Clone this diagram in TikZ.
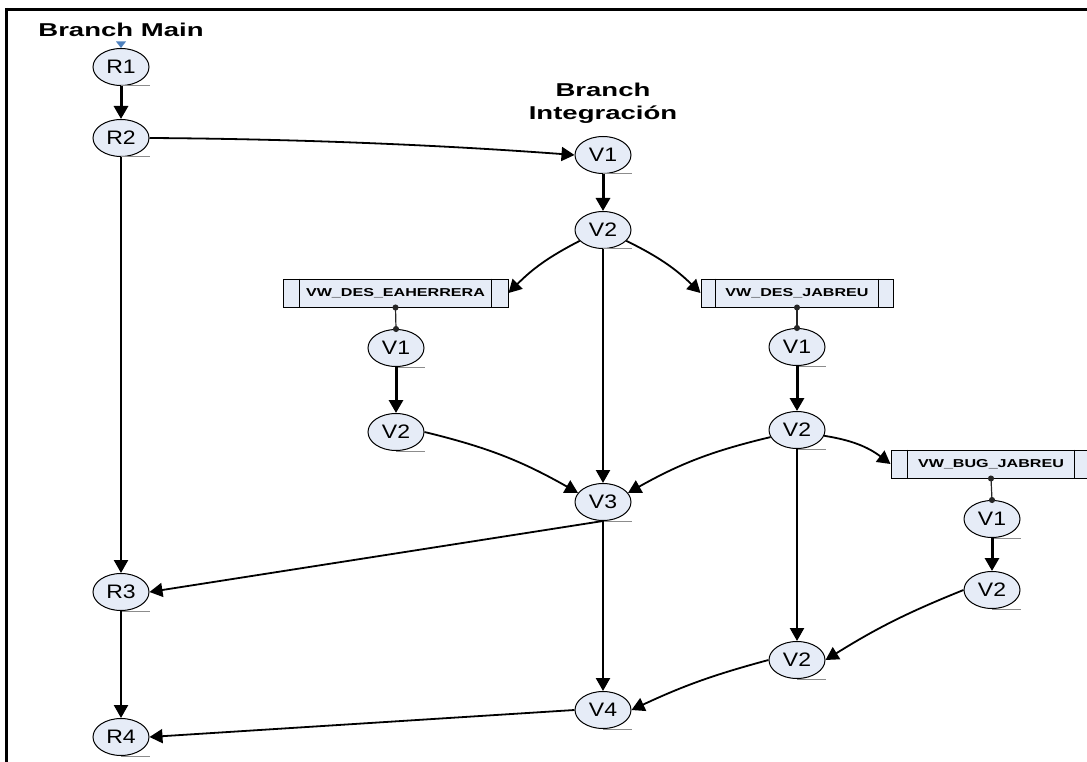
\documentclass[tikz,border=0pt]{standalone}
\usepackage{fontspec}
\setmainfont{Liberation Sans}
\usetikzlibrary{arrows.meta,shapes.geometric}

\definecolor{nodefill}{HTML}{E6ECF7}
\definecolor{markblue}{HTML}{4F81BD}
\definecolor{ulgray}{HTML}{8C8C8C}

% horizontal stretch of a label
\newcommand\xstr[2]{\scalebox{#1}[1]{#2}}
\newcommand\vlab[1]{\xstr{1.18}{#1}}
\newcommand\blab[1]{\xstr{1.4}{\bfseries #1}}

\tikzset{
  x=1pt, y=-1pt,
  ver/.style={ellipse, draw=black, line width=1pt, fill=nodefill,
    minimum width=56pt, minimum height=37pt, inner sep=0pt,
    font=\fontsize{19.5}{20}\selectfont},
  branchbox/.style={rectangle, draw=black, line width=1pt, fill=nodefill,
    minimum height=28pt, inner sep=0pt, font=\fontsize{11.5}{12}\selectfont},
  title/.style={font=\fontsize{18.6}{23}\selectfont\bfseries, align=center, inner sep=0pt},
  tip/.style={-{Triangle[length=13pt,width=14pt]}},
  heavy/.style={tip, line width=3pt},
  medium/.style={tip, line width=2.3pt},
  light/.style={tip, line width=1.8pt},
  link/.style={line width=1.2pt, draw=black!85,
    {Circle[length=6pt]}-{Circle[length=6pt]}, shorten <=-3pt, shorten >=-3pt},
  uline/.style={draw=ulgray, line width=1pt},
}

\begin{document}
\begin{tikzpicture}
\useasboundingbox (0,0) rectangle (1087,762);

% frame (top and left edges)
\draw[line width=3pt] (6.5,9.5) -- (1087,9.5);
\draw[line width=3pt] (6.5,8) -- (6.5,762);

% titles
\node[title] (tmain) at (121,30) {\xstr{1.48}{Branch Main}};
\node[title] (tint) at (603,103) {\xstr{1.48}{Branch}\\\xstr{1.48}{Integración}};

% main branch
\node[ver] (R1) at (121,67) {\vlab{R1}};
\node[ver] (R2) at (121,138) {\vlab{R2}};
\node[ver] (R3) at (121,592) {\vlab{R3}};
\node[ver] (R4) at (121,737) {\vlab{R4}};

% marker above R1
\fill[markblue] (116,41.5) -- (126,41.5) -- (121,48) -- cycle;

% integration branch
\node[ver] (V1) at (603,155) {\vlab{V1}};
\node[ver] (V2) at (603,230) {\vlab{V2}};
\node[ver] (V3) at (603,502) {\vlab{V3}};
\node[ver] (V4) at (603,710) {\vlab{V4}};

% developer branches
\node[branchbox, minimum width=225pt] (BE) at (395.5,293) {\blab{VW\_DES\_EAHERRERA}};
\node[branchbox, minimum width=192pt] (BJ) at (797,293) {\blab{VW\_DES\_JABREU}};
\node[branchbox, minimum width=200pt] (BB) at (991,464) {\blab{VW\_BUG\_JABREU}};

\node[ver] (E1) at (396,348) {\vlab{V1}};
\node[ver] (E2) at (396,432) {\vlab{V2}};
\node[ver] (J1) at (797,347) {\vlab{V1}};
\node[ver] (J2) at (797,430) {\vlab{V2}};
\node[ver] (J3) at (797,660) {\vlab{V2}};
\node[ver] (B1) at (992,519) {\vlab{V1}};
\node[ver] (B2) at (992,590) {\vlab{V2}};

% inner side bars of the branch boxes
\foreach \b/\w in {BE/17, BJ/15, BB/17} {
  \draw[line width=1pt] ([xshift=\w pt]\b.north west) -- ([xshift=\w pt]\b.south west);
  \draw[line width=1pt] ([xshift=-\w pt]\b.north east) -- ([xshift=-\w pt]\b.south east);
}

% grey underlines
\foreach \n in {R1,R2,R3,R4,V1,V2,V3,V4,E1,E2,J1,J2,J3,B1,B2}
  \draw[uline] (\n.south) -- ++(29,0);

% branch-to-first-version links
\draw[link] (BE.south) -- (E1.north);
\draw[link] (BJ.south) -- (J1.north);
\draw[link] (BB.south) -- (B1.north);

% main line
\draw[heavy] (R1) -- (R2);
\draw[medium] (R2) -- (R3);
\draw[medium] (R3) -- (R4);
\draw[light] (R2.east) .. controls +(160,1) and +(-120,-9) .. (V1.west);

% integration line
\draw[heavy] (V1) -- (V2);
\draw[medium] (V2) -- (V3);
\draw[medium] (V3) -- (V4);
\draw[light] (V2.205) to[bend right=9] (BE.east);
\draw[light] (V2.-25) to[bend left=9] (BJ.west);

% developer lines
\draw[heavy] (E1) -- (E2);
\draw[light] (E2.east) to[bend left=8] (V3.160);
\draw[heavy] (J1) -- (J2);
\draw[light] (J2.195) to[bend right=8] (V3.20);
\draw[light] (J2.-12) to[bend left=14] (BB.west);
\draw[medium] (J2) -- (J3);
\draw[heavy] (B1) -- (B2);
\draw[light] (B2.west) to[bend right=5] (J3.east);
\draw[light] (J3.west) to[bend right=5] (V4.east);

% merges back into main
\draw[light] (V3.south) -- (R3.east);
\draw[light] (V4.west) -- (R4.east);
\end{tikzpicture}
\end{document}
